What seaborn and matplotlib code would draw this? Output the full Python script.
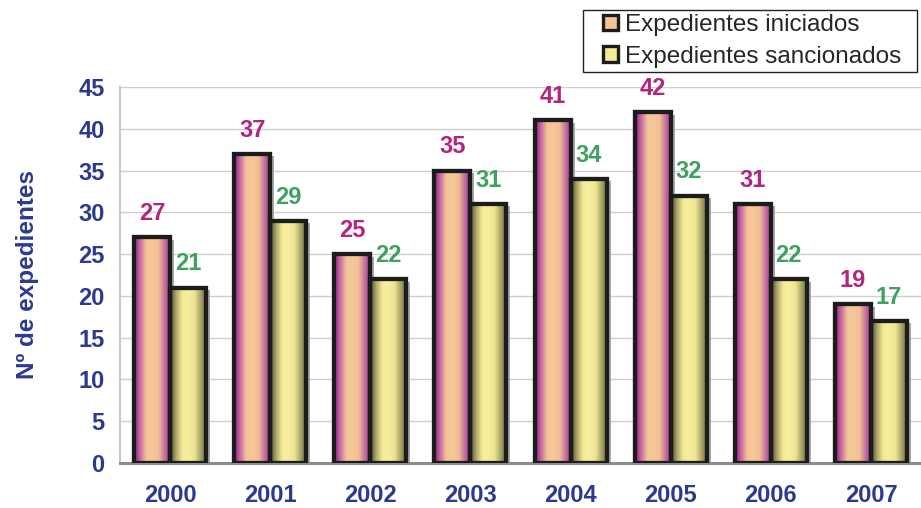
import numpy as np
import pandas as pd
import seaborn as sns
import matplotlib.pyplot as plt
from matplotlib.colors import LinearSegmentedColormap
from matplotlib.patches import Patch, Rectangle

years = ["2000", "2001", "2002", "2003", "2004", "2005", "2006", "2007"]
iniciados = [27, 37, 25, 35, 41, 42, 31, 19]
sancionados = [21, 29, 22, 31, 34, 32, 22, 17]
series_names = ["Expedientes iniciados", "Expedientes sancionados"]

df = pd.DataFrame({
    "year": years * 2,
    "value": iniciados + sancionados,
    "serie": [series_names[0]] * len(years) + [series_names[1]] * len(years),
})

blue = "#2b3990"
label_colors = ["#b3247f", "#3ea15e"]

# gradients across the bar width, like the original 3D-ish bars
cmap_ini = LinearSegmentedColormap.from_list(
    "ini", ["#8c1a88", "#c86aa2", "#f4c497", "#f6c898", "#f1bf95", "#c670a0", "#9a2e8c"])
cmap_san = LinearSegmentedColormap.from_list(
    "san", ["#4a452a", "#b0a86a", "#f4eb97", "#f6ee9c", "#eee494", "#a8a266", "#6a663e"])

sns.set_style("white")
plt.rcParams["font.family"] = ["Liberation Sans", "DejaVu Sans"]

fig = plt.figure(figsize=(9.21, 5.08), dpi=100)
ax = fig.add_axes([0.1303, 0.0886, 0.8697, 0.7402])

sns.barplot(data=df, x="year", y="value", hue="serie", ax=ax,
            width=0.72, palette=["#f4c497", "#f4eb97"], legend=False,
            edgecolor="#1c1c1c", linewidth=3.1, zorder=3)

grad = np.linspace(0, 1, 256).reshape(1, -1)
for container, cmap, color, vals in zip(ax.containers, [cmap_ini, cmap_san],
                                        label_colors, [iniciados, sancionados]):
    for patch, v in zip(container.patches, vals):
        x0 = patch.get_x()
        w = patch.get_width()
        h = patch.get_height()
        im = ax.imshow(grad, cmap=cmap, aspect="auto", extent=[x0, x0 + w, 0, h],
                       zorder=2, interpolation="bicubic")
        im.set_clip_path(patch)
        patch.set_facecolor("none")
        # soft shadow on the right side
        ax.plot([x0 + w + 0.03, x0 + w + 0.03], [0, h - 0.3], color="#9a9a9a",
                lw=1.2, zorder=1, solid_capstyle="butt")
        ax.annotate(str(v), (x0 + w / 2, h), xytext=(0, 17),
                    textcoords="offset points", ha="center", va="center",
                    fontsize=17, fontweight="bold", color=color)

ax.set_xlim(-0.5, 7.41)
ax.set_ylim(0, 45)
ax.set_yticks(range(0, 46, 5))
ax.yaxis.grid(True, color="#cfcfcf", lw=1)
ax.set_axisbelow(True)
ax.set_xticks(np.arange(-0.5, 7.6, 1), minor=True)
ax.tick_params(axis="x", which="minor", length=7, color="#c8c8c8", width=1)
ax.tick_params(axis="x", which="major", length=0, pad=15)
ax.tick_params(axis="y", length=5, color="#c8c8c8", width=1, pad=6)

for lab in ax.get_xticklabels() + ax.get_yticklabels():
    lab.set_fontsize(17)
    lab.set_fontweight("bold")
    lab.set_color(blue)

for s in ["top", "right"]:
    ax.spines[s].set_visible(False)
ax.spines["left"].set_color("#c8c8c8")
ax.spines["left"].set_linewidth(1.5)
ax.spines["bottom"].set_color("#8c8c8c")
ax.spines["bottom"].set_linewidth(2.2)

ax.set_xlabel("")
ax.set_ylabel("Nº de expedientes", fontsize=17.5, fontweight="bold", color=blue, labelpad=28)

# legend box drawn by hand so the padding matches the original
W, H = 921, 508
fig.patches.append(Rectangle((583 / W, 1 - 72 / H), (917 - 583) / W, 62 / H,
                             transform=fig.transFigure, fill=False,
                             edgecolor="#222222", linewidth=1.0, zorder=5))
handles = [Patch(facecolor="#f4c497", edgecolor="#1c1c1c", linewidth=2.4),
           Patch(facecolor="#f4eb97", edgecolor="#1c1c1c", linewidth=2.4)]
leg = fig.legend(handles, series_names, loc="upper left",
                 bbox_to_anchor=(603 / W, 1 - 14 / H), fontsize=17.5,
                 frameon=False, handlelength=0.62, handleheight=0.62,
                 handletextpad=0.3, borderpad=0, labelspacing=0.4,
                 borderaxespad=0)

fig.savefig("out.png", dpi=100)
